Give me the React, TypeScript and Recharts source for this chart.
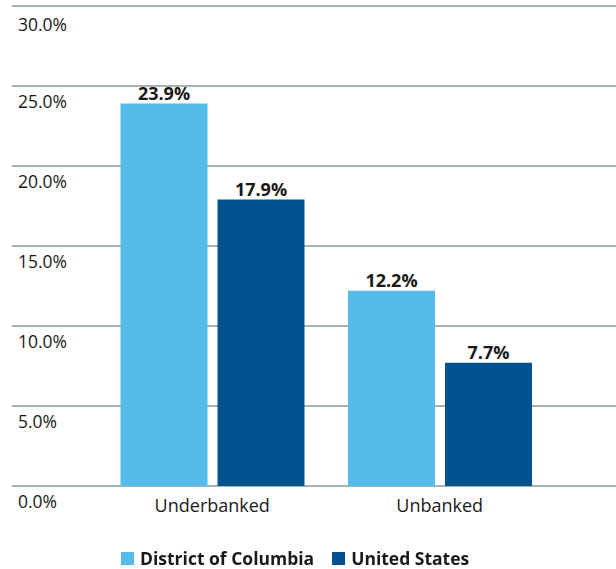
import { Bar, BarChart, CartesianGrid, LabelList, Legend, XAxis, YAxis } from "recharts";

// 은행 이용 현황: DC vs 미국 전체 (underbanked / unbanked 비율)

const CATEGORIES = ["Underbanked", "Unbanked"];
const DC_VALUES = [23.9, 12.2];
const US_VALUES = [17.9, 7.7];
const Y_TICKS = [0, 5, 10, 15, 20, 25, 30];
const SERIES_NAMES = ["District of Columbia", "United States"];

const LIGHT = "#54BBEA";
const DARK = "#02528F";
const GRID = "#A8B4AF";
const TEXT = "#1A1A1A";
const FONT = "'Open Sans', Lato, sans-serif";

const rows = CATEGORIES.map((name, i) => ({ name, dc: DC_VALUES[i], us: US_VALUES[i] }));

function YTick({ y, payload }: { y?: number; payload?: { value: number } }) {
  return (
    <text x={18} y={(y ?? 0) + 22} fill={TEXT} fontSize={17.5} fontFamily={FONT}>
      {`${payload?.value.toFixed(1)}%`}
    </text>
  );
}

function XTick({ x, y, payload }: { x?: number; y?: number; payload?: { value: string } }) {
  return (
    <text x={x} y={(y ?? 0) + 18} textAnchor="middle" fill={TEXT} fontSize={18} fontFamily={FONT}>
      {payload?.value}
    </text>
  );
}

function LegendBox() {
  const items = [
    { label: SERIES_NAMES[0], color: LIGHT },
    { label: SERIES_NAMES[1], color: DARK },
  ];
  return (
    <div style={{ display: "flex", alignItems: "center", marginLeft: 121, gap: 18, height: 16 }}>
      {items.map((it) => (
        <div key={it.label} style={{ display: "flex", alignItems: "center", gap: 6 }}>
          <span style={{ width: 13, height: 13, background: it.color, display: "inline-block" }} />
          <span style={{ fontFamily: FONT, fontWeight: 700, fontSize: 17.5, lineHeight: "16px", color: TEXT }}>
            {it.label}
          </span>
        </div>
      ))}
    </div>
  );
}

export default function App() {
  return (
    <div style={{ position: "fixed", left: 0, top: 0, background: "#fff" }}>
      <BarChart
        width={616}
        height={569}
        data={rows}
        margin={{ top: 6, right: 0, bottom: 53, left: 0 }}
        barSize={87}
        barGap={10}
      >
        <CartesianGrid stroke={GRID} strokeWidth={2} vertical={false} />
        <XAxis
          dataKey="name"
          axisLine={false}
          tickLine={false}
          height={30}
          padding={{ left: 86.5, right: 62.5 }}
          tick={<XTick />}
        />
        <YAxis
          domain={[0, 30]}
          ticks={Y_TICKS}
          width={12}
          axisLine={false}
          tickLine={false}
          tick={<YTick />}
        />
        <Legend
          verticalAlign="middle"
          align="center"
          layout="horizontal"
          wrapperStyle={{ top: 550, left: 0, width: 616, height: 16 }}
          content={() => <LegendBox />}
        />
        <Bar dataKey="dc" name={SERIES_NAMES[0]} fill={LIGHT} isAnimationActive={false}>
          <LabelList
            dataKey="dc"
            position="top"
            offset={4}
            formatter={(v: number) => `${v.toFixed(1)}%`}
            style={{ fill: TEXT, fontSize: 18, fontWeight: 700, fontFamily: FONT }}
          />
        </Bar>
        <Bar dataKey="us" name={SERIES_NAMES[1]} fill={DARK} isAnimationActive={false}>
          <LabelList
            dataKey="us"
            position="top"
            offset={4}
            formatter={(v: number) => `${v.toFixed(1)}%`}
            style={{ fill: TEXT, fontSize: 18, fontWeight: 700, fontFamily: FONT }}
          />
        </Bar>
      </BarChart>
    </div>
  );
}
